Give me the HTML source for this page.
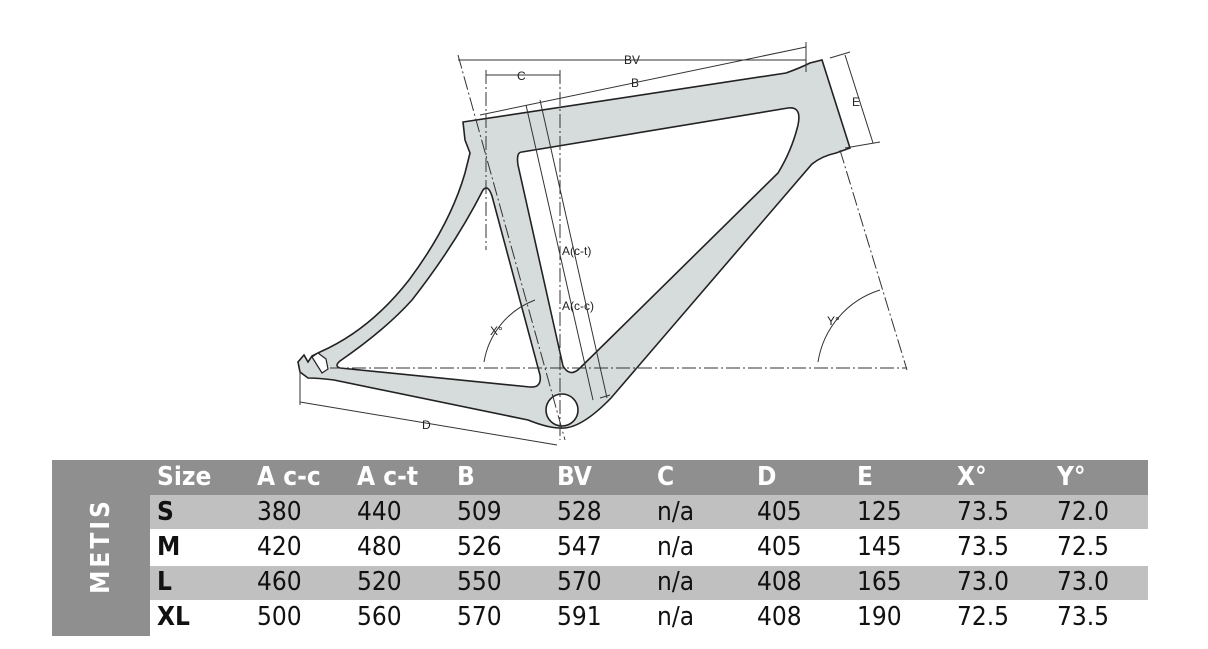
<!DOCTYPE html>
<html><head><meta charset="utf-8"><style>
body{margin:0;width:1208px;height:649px;background:#fff;position:relative;overflow:hidden;font-family:"DejaVu Sans Condensed","DejaVu Sans","Liberation Sans",sans-serif}
.a{position:absolute}
.t{position:absolute;font-size:26px;line-height:35px;color:#111}
.h{color:#fff;font-weight:bold}
.b{font-weight:bold}
</style></head><body>
<svg class="a" style="left:0;top:0" width="1208" height="460" viewBox="0 0 1208 460">
<path fill="#d6dcdb" stroke="#222" stroke-width="1.6" fill-rule="evenodd" d="
M463,122 L786,73 Q800,68 810,63 L822,60 L850,148 L836,153 Q822,156 812,164 L611,398 Q580,430 560,428 Q548,428 528,420 L334,380 Q318,378 308,378 L300,372 L298,362 L304,355 L308,362 L312,356 L320,352 Q370,330 409,280 Q450,225 465,173 L470,153 L465,140 Z
M522,152 L788,108 Q802,106 798,125 Q792,150 778,173 L580,368 Q570,378 563,366 L518,165 Q516,152 522,152 Z
M483,190 Q488,184 492,196 L540,375 Q542,388 530,387 L340,368 Q334,366 340,361 Q385,330 412,300 Q455,245 483,190 Z"/>
<circle cx="562" cy="410" r="16" fill="#fff" stroke="#222" stroke-width="1.6"/>
<path d="M312,357 l6,-4 l8,6 l2,10 l-6,4 z" fill="#fff" stroke="#222" stroke-width="1.2"/>
<g stroke="#333" stroke-width="1" fill="none">
<path stroke-dasharray="14,3,2,3" d="M330,368 H907 M458,55 L565,440 M486,70 V250 M560,70 V440 M840,150 L907,370"/>
<path d="M458,60 H806 M806,42 V72 M486,75 H560 M480,115 L806,47 M845,55 L873,143 M830,58 L850,52 M845,148 L880,142 M526,105 L593,400 M540,100 L607,398 M600,398 L610,395 M300,370 L300,405 M300,402 L557,445"/>
<path d="M484,362 A80,80 0 0 1 535,300"/>
<path d="M818,362 A90,90 0 0 1 880,290"/>
</g>
<g font-family="Liberation Sans,sans-serif" font-size="12" fill="#222">
<text x="624" y="64">BV</text><text x="517" y="80">C</text><text x="631" y="87">B</text>
<text x="852" y="106">E</text><text x="562" y="255">A(c-t)</text><text x="562" y="310">A(c-c)</text>
<text x="490" y="335">X°</text><text x="827" y="325">Y°</text><text x="422" y="429">D</text>
</g>
</svg>
<div class="a" style="left:52px;top:460px;width:1096px;height:35px;background:#8f8f8f"></div>
<div class="a" style="left:52px;top:460px;width:98px;height:176px;background:#8f8f8f"></div>
<div class="a" style="left:150px;top:495px;width:998px;height:34px;background:#c0c0c0"></div>
<div class="a" style="left:150px;top:566px;width:998px;height:34px;background:#c0c0c0"></div>
<div class="a" style="transform:translate(-50%,-50%) rotate(-90deg);left:101px;top:546px;color:#fff;font-weight:bold;font-size:26px;letter-spacing:3px;line-height:30px;text-align:center;width:120px">METIS</div>
<div class="t h" style="left:157px;top:460px">Size</div><div class="t h" style="left:257px;top:460px">A c-c</div><div class="t h" style="left:357px;top:460px">A c-t</div><div class="t h" style="left:457px;top:460px">B</div><div class="t h" style="left:557px;top:460px">BV</div><div class="t h" style="left:657px;top:460px">C</div><div class="t h" style="left:757px;top:460px">D</div><div class="t h" style="left:857px;top:460px">E</div><div class="t h" style="left:957px;top:460px">X°</div><div class="t h" style="left:1057px;top:460px">Y°</div>
<div class="t b" style="left:157px;top:495px">S</div><div class="t" style="left:257px;top:495px">380</div><div class="t" style="left:357px;top:495px">440</div><div class="t" style="left:457px;top:495px">509</div><div class="t" style="left:557px;top:495px">528</div><div class="t" style="left:657px;top:495px">n/a</div><div class="t" style="left:757px;top:495px">405</div><div class="t" style="left:857px;top:495px">125</div><div class="t" style="left:957px;top:495px">73.5</div><div class="t" style="left:1057px;top:495px">72.0</div>
<div class="t b" style="left:157px;top:530px">M</div><div class="t" style="left:257px;top:530px">420</div><div class="t" style="left:357px;top:530px">480</div><div class="t" style="left:457px;top:530px">526</div><div class="t" style="left:557px;top:530px">547</div><div class="t" style="left:657px;top:530px">n/a</div><div class="t" style="left:757px;top:530px">405</div><div class="t" style="left:857px;top:530px">145</div><div class="t" style="left:957px;top:530px">73.5</div><div class="t" style="left:1057px;top:530px">72.5</div>
<div class="t b" style="left:157px;top:565px">L</div><div class="t" style="left:257px;top:565px">460</div><div class="t" style="left:357px;top:565px">520</div><div class="t" style="left:457px;top:565px">550</div><div class="t" style="left:557px;top:565px">570</div><div class="t" style="left:657px;top:565px">n/a</div><div class="t" style="left:757px;top:565px">408</div><div class="t" style="left:857px;top:565px">165</div><div class="t" style="left:957px;top:565px">73.0</div><div class="t" style="left:1057px;top:565px">73.0</div>
<div class="t b" style="left:157px;top:600px">XL</div><div class="t" style="left:257px;top:600px">500</div><div class="t" style="left:357px;top:600px">560</div><div class="t" style="left:457px;top:600px">570</div><div class="t" style="left:557px;top:600px">591</div><div class="t" style="left:657px;top:600px">n/a</div><div class="t" style="left:757px;top:600px">408</div><div class="t" style="left:857px;top:600px">190</div><div class="t" style="left:957px;top:600px">72.5</div><div class="t" style="left:1057px;top:600px">73.5</div>
</body></html>
